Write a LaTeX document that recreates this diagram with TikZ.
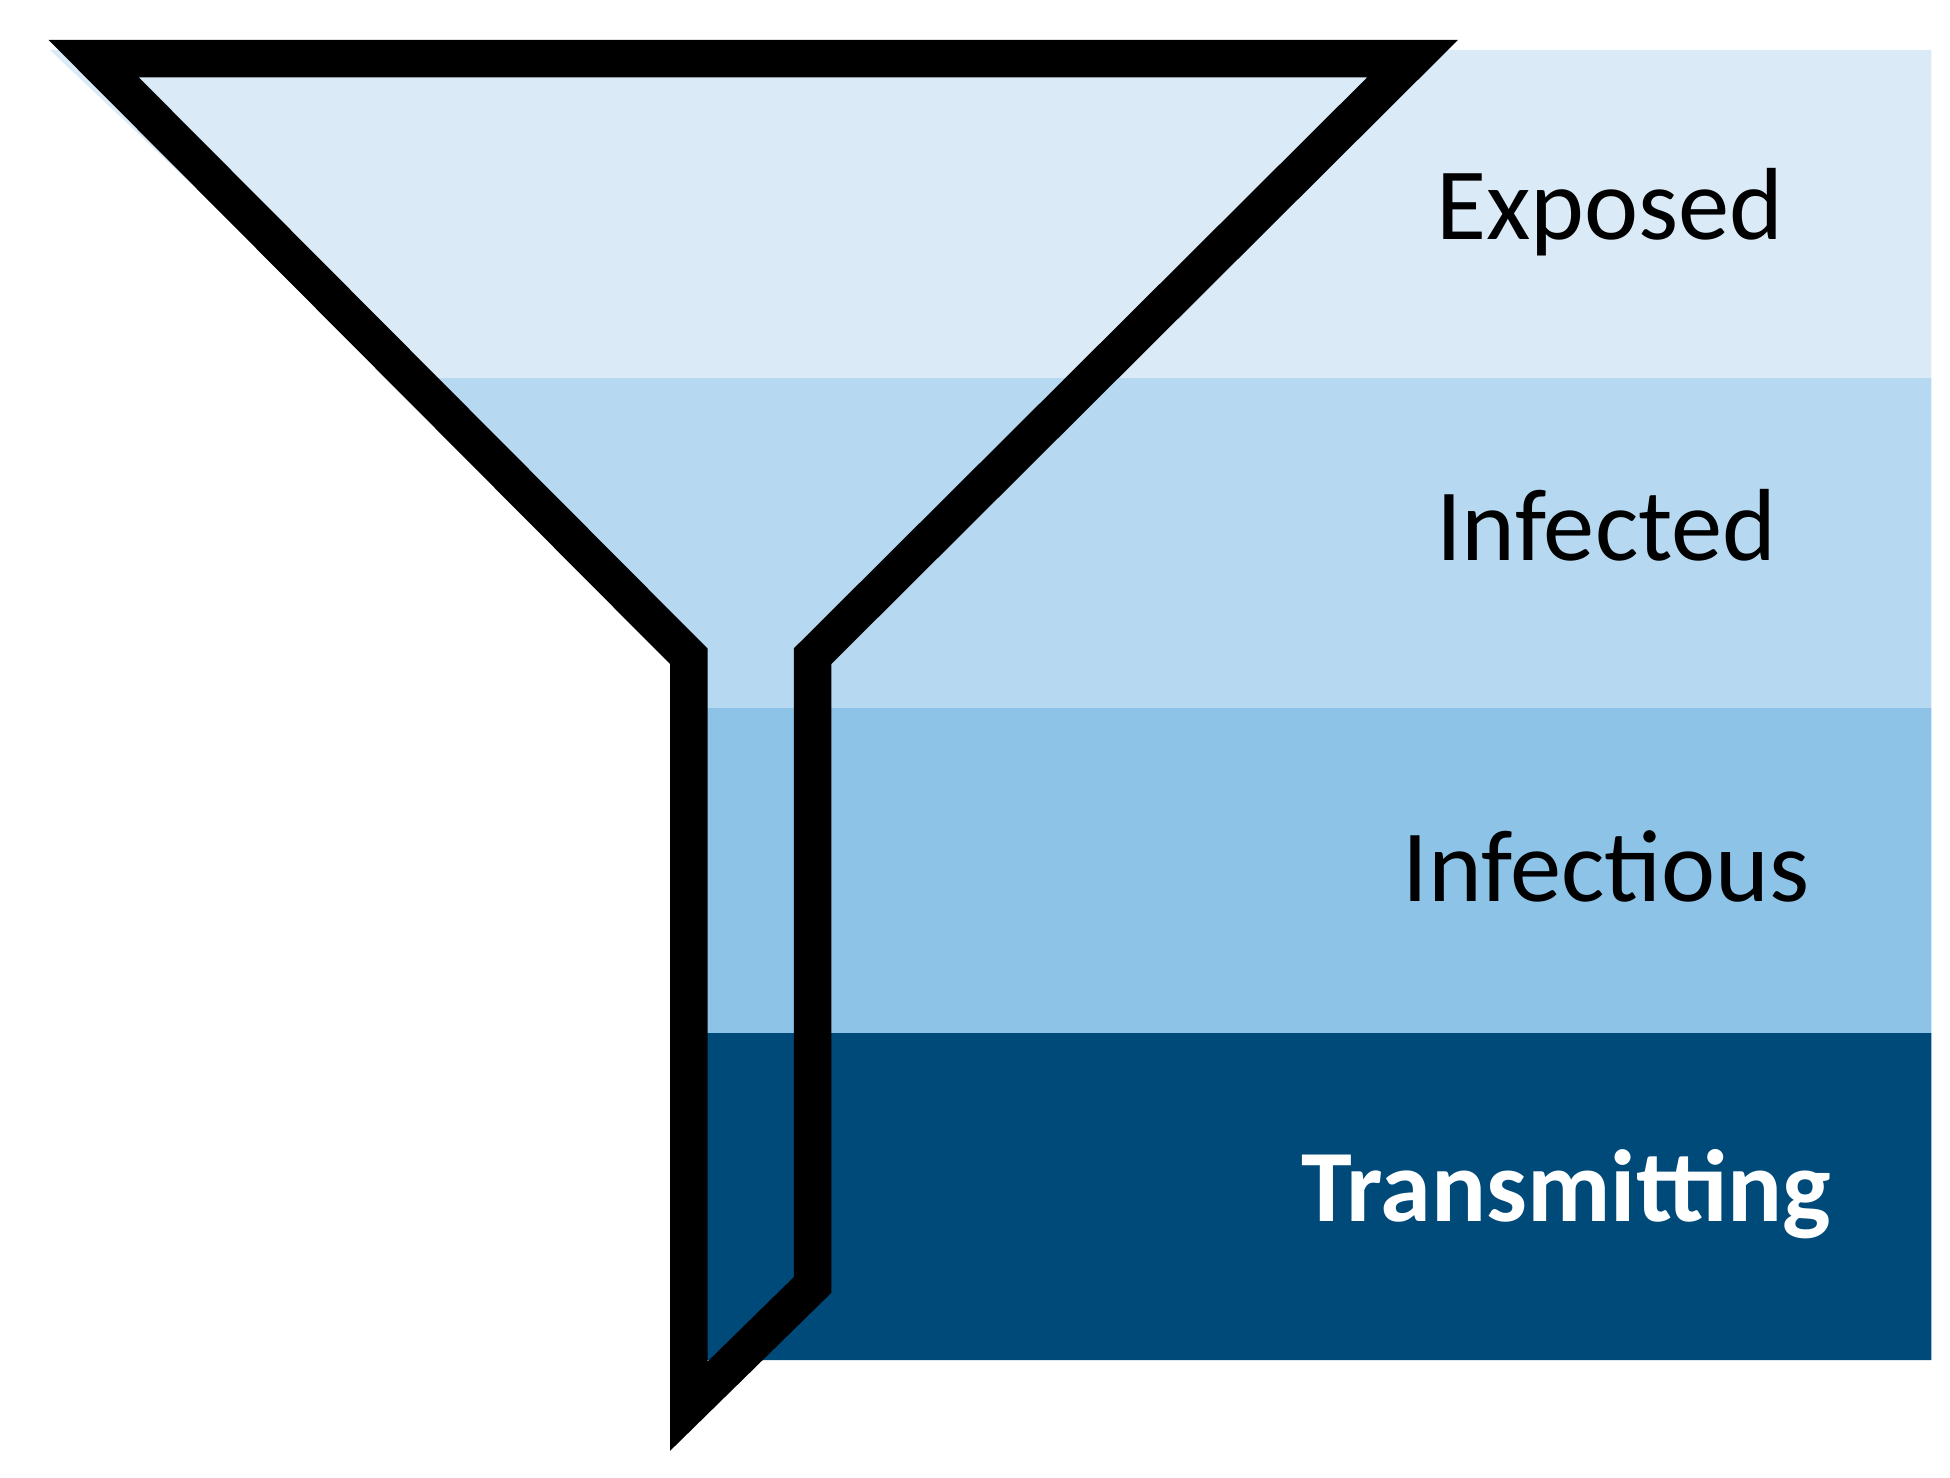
\documentclass[tikz,border=0pt]{standalone}
\usepackage{fontspec}
\setmainfont{Carlito}
\definecolor{b1}{HTML}{DAEAF6}
\definecolor{b2}{HTML}{B6D8F0}
\definecolor{b3}{HTML}{8EC3E8}
\definecolor{b4}{HTML}{004A7A}
\begin{document}
\begin{tikzpicture}[x=1pt,y=-1pt,lab/.style={font=\fontsize{82}{90}\selectfont,anchor=center}]
\useasboundingbox (0,0) rectangle (1560,1182);
\def\region{(40,40) -- (1545,40) -- (1545,1088) -- (551,1088) -- (551,525) -- cycle}
\foreach \c/\a/\b in {b1/40/303, b2/303/567, b3/567/827, b4/827/1088}{
  \begin{scope}
    \clip (0,\a) rectangle (1560,\b);
    \fill[\c] \region;
  \end{scope}
}
\node[lab] (e) at (1288,170) {Exposed};
\node[lab] (i) at (1285,420) {Infected};
\node[lab] (f) at (1285,693) {Infectious};
\node[lab,font=\fontsize{82}{90}\selectfont\bfseries,text=white] (t) at (1253,955) {Transmitting};
\draw[line width=30pt,line join=miter,miter limit=20]
  (75,47) -- (1130,47) -- (650,525) -- (650,1028) -- (551,1125) -- (551,525) -- cycle;
\end{tikzpicture}
\end{document}
